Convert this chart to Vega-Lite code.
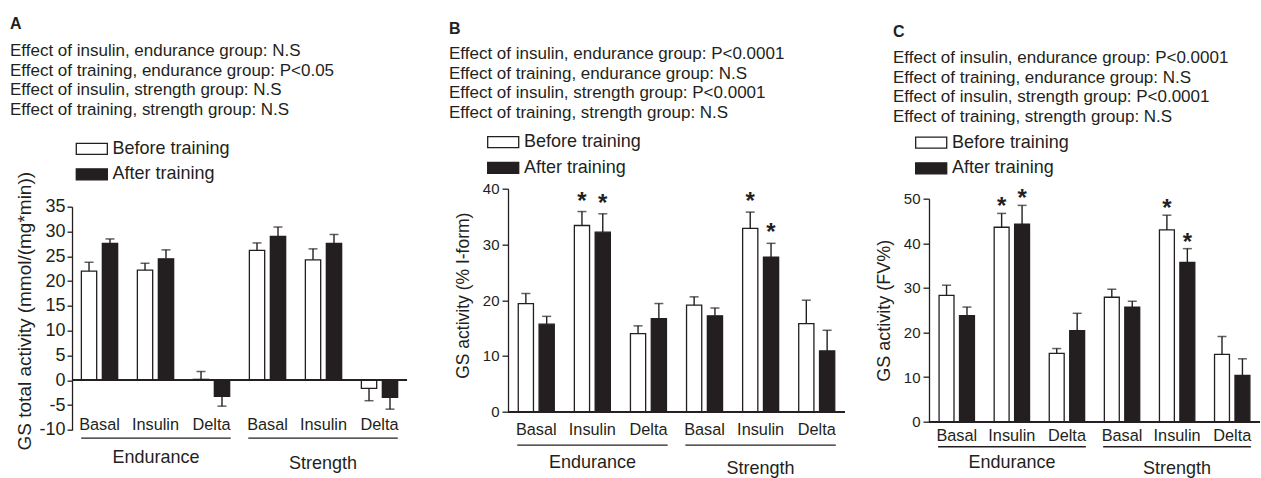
{
  "$schema": "https://vega.github.io/schema/vega-lite/v6.json",
  "background": "white",
  "padding": {"left": 10, "top": 15.7, "right": 0, "bottom": 0},
  "datasets": {
    "A": [
      {"k": "Endurance|Basal", "series": "Before training", "mean": 22.0, "cap": 23.8},
      {"k": "Endurance|Basal", "series": "After training", "mean": 27.6, "cap": 28.5},
      {"k": "Endurance|Insulin", "series": "Before training", "mean": 22.2, "cap": 23.6},
      {"k": "Endurance|Insulin", "series": "After training", "mean": 24.5, "cap": 26.3},
      {"k": "Endurance|Delta", "series": "Before training", "mean": 0.2, "cap": 1.8},
      {"k": "Endurance|Delta", "series": "After training", "mean": -3.2, "cap": -5.2},
      {"k": "Strength|Basal", "series": "Before training", "mean": 26.2, "cap": 27.7},
      {"k": "Strength|Basal", "series": "After training", "mean": 29.0, "cap": 30.9},
      {"k": "Strength|Insulin", "series": "Before training", "mean": 24.3, "cap": 26.5},
      {"k": "Strength|Insulin", "series": "After training", "mean": 27.6, "cap": 29.4},
      {"k": "Strength|Delta", "series": "Before training", "mean": -1.6, "cap": -4.1},
      {"k": "Strength|Delta", "series": "After training", "mean": -3.4, "cap": -5.8}
    ],
    "B": [
      {"k": "Endurance|Basal", "series": "Before training", "mean": 19.4, "cap": 21.2},
      {"k": "Endurance|Basal", "series": "After training", "mean": 15.7, "cap": 17.1},
      {"k": "Endurance|Insulin", "series": "Before training", "mean": 33.4, "cap": 35.9, "star": "*"},
      {"k": "Endurance|Insulin", "series": "After training", "mean": 32.2, "cap": 35.5, "star": "*"},
      {"k": "Endurance|Delta", "series": "Before training", "mean": 14.0, "cap": 15.4},
      {"k": "Endurance|Delta", "series": "After training", "mean": 16.7, "cap": 19.4},
      {"k": "Strength|Basal", "series": "Before training", "mean": 19.1, "cap": 20.6},
      {"k": "Strength|Basal", "series": "After training", "mean": 17.2, "cap": 18.6},
      {"k": "Strength|Insulin", "series": "Before training", "mean": 32.9, "cap": 35.8, "star": "*"},
      {"k": "Strength|Insulin", "series": "After training", "mean": 27.7, "cap": 30.2, "star": "*"},
      {"k": "Strength|Delta", "series": "Before training", "mean": 15.8, "cap": 20.0},
      {"k": "Strength|Delta", "series": "After training", "mean": 10.9, "cap": 14.6}
    ],
    "C": [
      {"k": "Endurance|Basal", "series": "Before training", "mean": 28.3, "cap": 30.6},
      {"k": "Endurance|Basal", "series": "After training", "mean": 23.8, "cap": 25.7},
      {"k": "Endurance|Insulin", "series": "Before training", "mean": 43.6, "cap": 46.7, "star": "*"},
      {"k": "Endurance|Insulin", "series": "After training", "mean": 44.3, "cap": 48.5, "star": "*"},
      {"k": "Endurance|Delta", "series": "Before training", "mean": 15.3, "cap": 16.4},
      {"k": "Endurance|Delta", "series": "After training", "mean": 20.4, "cap": 24.3},
      {"k": "Strength|Basal", "series": "Before training", "mean": 27.9, "cap": 29.7},
      {"k": "Strength|Basal", "series": "After training", "mean": 25.7, "cap": 27.0},
      {"k": "Strength|Insulin", "series": "Before training", "mean": 43.0, "cap": 46.3, "star": "*"},
      {"k": "Strength|Insulin", "series": "After training", "mean": 35.7, "cap": 38.8, "star": "*"},
      {"k": "Strength|Delta", "series": "Before training", "mean": 15.1, "cap": 19.1},
      {"k": "Strength|Delta", "series": "After training", "mean": 10.4, "cap": 14.1}
    ],
    "groups": [
      {"group": "Endurance"},
      {"group": "Strength"}
    ]
  },
  "spacing": 29,
  "resolve": {"scale": {"fill": "independent", "xOffset": "independent"}, "legend": {"fill": "independent"}},
  "hconcat": [
    {
      "spacing": 41,
      "resolve": {"scale": {"fill": "independent", "xOffset": "independent"}, "legend": {"fill": "independent"}},
      "hconcat": [
        {
          "spacing": 0,
          "bounds": "flush",
          "resolve": {"scale": {"fill": "independent", "xOffset": "independent"}, "legend": {"fill": "independent"}},
          "vconcat": [
            {"width": 335, "height": 18, "data": {"values": []}, "mark": {"type": "point", "opacity": 0}},
            {
              "width": 335,
              "height": 223.3,
              "title": {
                "text": "A",
                "subtitle": ["Effect of insulin, endurance group: N.S", "Effect of training, endurance group: P<0.05", "Effect of insulin, strength group: N.S", "Effect of training, strength group: N.S"],
                "anchor": "start", "frame": "group", "dx": -62,
                "fontSize": 16, "fontWeight": "bold",
                "subtitleFontSize": 17, "subtitleLineHeight": 19.6, "subtitlePadding": 11, "offset": 21.8
              },
              "layer": [
                {
                  "data": {"name": "A"},
                  "layer": [
                    {
                      "mark": {"type": "bar", "stroke": "#231f20", "strokeWidth": 1.3},
                      "encoding": {
                        "x": {"field": "k", "type": "nominal", "sort": null, "scale": {"paddingInner": 0.352, "paddingOuter": 0.167},
                          "axis": {"title": null, "labelExpr": "split(datum.value, '|')[1]", "labelAngle": 0, "labelFontSize": 16.3, "labelBaseline": "alphabetic", "labelPadding": 0, "ticks": false, "tickSize": 0, "domain": false}},
                        "xOffset": {"field": "series", "type": "nominal", "sort": ["Before training", "After training"], "scale": {"paddingInner": 0.27, "paddingOuter": 0}},
                        "y": {"field": "mean", "type": "quantitative", "scale": {"domain": [-10, 35], "nice": false},
                          "axis": {"title": "GS total activity (mmol/(mg*min))", "values": [-10, -5, 0, 5, 10, 15, 20, 25, 30, 35], "labelExpr": "'' + datum.value", "labelOverlap": false, "tickSize": 5, "labelPadding": 2, "labelFontSize": 18, "titleFontSize": 19, "titlePadding": 5, "titleY": 104}},
                        "fill": {"field": "series", "type": "nominal", "sort": ["Before training", "After training"], "scale": {"range": ["white", "#231f20"]},
                          "legend": {"orient": "none", "legendX": 4.3, "legendY": -66.8, "title": null, "padding": 0, "symbolType": "M-1.94,-0.69H1.94V0.69H-1.94Z", "symbolSize": 256, "symbolStrokeColor": "#231f20", "symbolStrokeWidth": 1.3, "symbolOffset": 6.5, "labelFontSize": 18, "labelOffset": 11.7, "rowPadding": 7.5, "labelColor": "#231f20", "labelFont": "Liberation Sans"}}
                      }
                    },
                    {
                      "mark": {"type": "rule", "stroke": "#231f20", "strokeWidth": 1.4},
                      "encoding": {
                        "x": {"field": "k", "type": "nominal", "sort": null},
                        "xOffset": {"field": "series", "type": "nominal", "sort": ["Before training", "After training"]},
                        "y": {"field": "mean", "type": "quantitative",
                          "axis": {"title": "GS total activity (mmol/(mg*min))", "values": [-10, -5, 0, 5, 10, 15, 20, 25, 30, 35], "labelExpr": "'' + datum.value", "labelOverlap": false, "tickSize": 5, "labelPadding": 2, "labelFontSize": 18, "titleFontSize": 19, "titlePadding": 5, "titleY": 104}},
                        "y2": {"field": "cap"}
                      }
                    },
                    {
                      "mark": {"type": "tick", "color": "#231f20", "thickness": 1.5, "size": 9},
                      "encoding": {
                        "x": {"field": "k", "type": "nominal", "sort": null},
                        "xOffset": {"field": "series", "type": "nominal", "sort": ["Before training", "After training"]},
                        "y": {"field": "cap", "type": "quantitative",
                          "axis": {"title": "GS total activity (mmol/(mg*min))", "values": [-10, -5, 0, 5, 10, 15, 20, 25, 30, 35], "labelExpr": "'' + datum.value", "labelOverlap": false, "tickSize": 5, "labelPadding": 2, "labelFontSize": 18, "titleFontSize": 19, "titlePadding": 5, "titleY": 104}}
                      }
                    },
                    {"mark": {"type": "rule", "stroke": "#231f20", "strokeWidth": 1.3},
                      "encoding": {"y": {"datum": 0,
                        "axis": {"title": "GS total activity (mmol/(mg*min))", "values": [-10, -5, 0, 5, 10, 15, 20, 25, 30, 35], "labelExpr": "'' + datum.value", "labelOverlap": false, "tickSize": 5, "labelPadding": 2, "labelFontSize": 18, "titleFontSize": 19, "titlePadding": 5, "titleY": 104}}}}
                  ]
                },
                {
                  "data": {"name": "groups"},
                  "layer": [
                    {"mark": {"type": "bar", "color": "#231f20"},
                      "encoding": {"x": {"field": "group", "type": "nominal", "scale": {"paddingInner": 0.105, "paddingOuter": 0.055}, "axis": null},
                        "y": {"datum": -11.5,
                          "axis": {"title": "GS total activity (mmol/(mg*min))", "values": [-10, -5, 0, 5, 10, 15, 20, 25, 30, 35], "labelExpr": "'' + datum.value", "labelOverlap": false, "tickSize": 5, "labelPadding": 2, "labelFontSize": 18, "titleFontSize": 19, "titlePadding": 5, "titleY": 104}},
                        "y2": {"datum": -11.76}}},
                    {"transform": [{"filter": "datum.group === 'Endurance'"}], "mark": {"type": "text", "fontSize": 18, "baseline": "middle", "color": "#231f20"},
                      "encoding": {"x": {"field": "group", "type": "nominal"},
                        "y": {"datum": -15.7,
                          "axis": {"title": "GS total activity (mmol/(mg*min))", "values": [-10, -5, 0, 5, 10, 15, 20, 25, 30, 35], "labelExpr": "'' + datum.value", "labelOverlap": false, "tickSize": 5, "labelPadding": 2, "labelFontSize": 18, "titleFontSize": 19, "titlePadding": 5, "titleY": 104}},
                        "text": {"field": "group"}}},
                    {"transform": [{"filter": "datum.group === 'Strength'"}], "mark": {"type": "text", "fontSize": 18, "baseline": "middle", "color": "#231f20"},
                      "encoding": {"x": {"field": "group", "type": "nominal"},
                        "y": {"datum": -16.9,
                          "axis": {"title": "GS total activity (mmol/(mg*min))", "values": [-10, -5, 0, 5, 10, 15, 20, 25, 30, 35], "labelExpr": "'' + datum.value", "labelOverlap": false, "tickSize": 5, "labelPadding": 2, "labelFontSize": 18, "titleFontSize": 19, "titlePadding": 5, "titleY": 104}},
                        "text": {"field": "group"}}}
                  ]
                }
              ],
              "resolve": {"scale": {"x": "independent"}, "axis": {"x": "independent"}}
            }
          ]
        },
        {
          "width": 337,
          "height": 223,
          "title": {
            "text": "B",
            "subtitle": ["Effect of insulin, endurance group: P<0.0001", "Effect of training, endurance group: N.S", "Effect of insulin, strength group: P<0.0001", "Effect of training, strength group: N.S"],
            "anchor": "start", "frame": "group", "dx": -59,
            "fontSize": 16, "fontWeight": "bold",
            "subtitleFontSize": 17, "subtitleLineHeight": 19.6, "subtitlePadding": 9.5, "offset": 12
          },
          "layer": [
            {
              "data": {"name": "B"},
              "layer": [
                {
                  "mark": {"type": "bar", "stroke": "#231f20", "strokeWidth": 1.3},
                  "encoding": {
                    "x": {"field": "k", "type": "nominal", "sort": null, "scale": {"paddingInner": 0.358, "paddingOuter": 0.183},
                      "axis": {"title": null, "labelExpr": "split(datum.value, '|')[1]", "labelAngle": 0, "labelFontSize": 16.3, "labelBaseline": "alphabetic", "labelPadding": 22.7, "ticks": false, "tickSize": 0, "domain": false}},
                    "xOffset": {"field": "series", "type": "nominal", "sort": ["Before training", "After training"], "scale": {"paddingInner": 0.27, "paddingOuter": 0}},
                    "y": {"field": "mean", "type": "quantitative", "scale": {"domain": [0, 40], "nice": false},
                      "axis": {"title": "GS activity (% I-form)", "values": [0, 10, 20, 30, 40], "labelOverlap": false, "tickSize": 6, "labelPadding": 3, "labelFontSize": 15, "titleFontSize": 17.5, "titlePadding": 9.4, "titleY": 106.5}},
                    "fill": {"field": "series", "type": "nominal", "sort": ["Before training", "After training"], "scale": {"range": ["white", "#231f20"]},
                      "legend": {"orient": "none", "legendX": -20.3, "legendY": -55.6, "title": null, "padding": 0, "symbolType": "M-1.94,-0.69H1.94V0.69H-1.94Z", "symbolSize": 256, "symbolStrokeColor": "#231f20", "symbolStrokeWidth": 1.3, "symbolOffset": 6.5, "labelFontSize": 18, "labelOffset": 11.7, "rowPadding": 7.8, "labelColor": "#231f20", "labelFont": "Liberation Sans"}}
                  }
                },
                {
                  "mark": {"type": "rule", "stroke": "#231f20", "strokeWidth": 1.4},
                  "encoding": {
                    "x": {"field": "k", "type": "nominal", "sort": null},
                    "xOffset": {"field": "series", "type": "nominal", "sort": ["Before training", "After training"]},
                    "y": {"field": "mean", "type": "quantitative"},
                    "y2": {"field": "cap"}
                  }
                },
                {
                  "mark": {"type": "tick", "color": "#231f20", "thickness": 1.5, "size": 9},
                  "encoding": {
                    "x": {"field": "k", "type": "nominal", "sort": null},
                    "xOffset": {"field": "series", "type": "nominal", "sort": ["Before training", "After training"]},
                    "y": {"field": "cap", "type": "quantitative"}
                  }
                },
                {
                  "transform": [{"filter": "datum.star"}],
                  "mark": {"type": "text", "fontSize": 24, "fontWeight": "bold", "baseline": "alphabetic", "dy": -3, "color": "#231f20"},
                  "encoding": {
                    "x": {"field": "k", "type": "nominal", "sort": null},
                    "xOffset": {"field": "series", "type": "nominal", "sort": ["Before training", "After training"]},
                    "y": {"field": "cap", "type": "quantitative"},
                    "text": {"field": "star"}
                  }
                },
                {"mark": {"type": "rule", "stroke": "#231f20", "strokeWidth": 1.3}, "encoding": {"y": {"datum": 0}}}
              ]
            },
            {
              "data": {"name": "groups"},
              "layer": [
                {"mark": {"type": "bar", "color": "#231f20"},
                  "encoding": {"x": {"field": "group", "type": "nominal", "scale": {"paddingInner": 0.105, "paddingOuter": 0.055}, "axis": null}, "y": {"datum": -5.87}, "y2": {"datum": -6.1}}},
                {"transform": [{"filter": "datum.group === 'Endurance'"}], "mark": {"type": "text", "fontSize": 18, "baseline": "middle", "color": "#231f20"},
                  "encoding": {"x": {"field": "group", "type": "nominal"}, "y": {"datum": -9.2}, "text": {"field": "group"}}},
                {"transform": [{"filter": "datum.group === 'Strength'"}], "mark": {"type": "text", "fontSize": 18, "baseline": "middle", "color": "#231f20"},
                  "encoding": {"x": {"field": "group", "type": "nominal"}, "y": {"datum": -10.35}, "text": {"field": "group"}}}
              ]
            }
          ],
          "resolve": {"scale": {"x": "independent"}, "axis": {"x": "independent"}}
        }
      ]
    },
    {
      "spacing": 0,
      "bounds": "flush",
      "resolve": {"scale": {"fill": "independent", "xOffset": "independent"}, "legend": {"fill": "independent"}},
      "vconcat": [
        {"width": 331, "height": 10, "data": {"values": []}, "mark": {"type": "point", "opacity": 0}},
        {
          "width": 331,
          "height": 223,
          "title": {
            "text": "C",
            "subtitle": ["Effect of insulin, endurance group: P<0.0001", "Effect of training, endurance group: N.S", "Effect of insulin, strength group: P<0.0001", "Effect of training, strength group: N.S"],
            "anchor": "start", "frame": "group", "dx": -36,
            "fontSize": 16, "fontWeight": "bold",
            "subtitleFontSize": 17, "subtitleLineHeight": 19.6, "subtitlePadding": 10.5, "offset": 8.5
          },
          "layer": [
            {
              "data": {"name": "C"},
              "layer": [
                {
                  "mark": {"type": "bar", "stroke": "#231f20", "strokeWidth": 1.3},
                  "encoding": {
                    "x": {"field": "k", "type": "nominal", "sort": null, "scale": {"paddingInner": 0.358, "paddingOuter": 0.183},
                      "axis": {"title": null, "labelExpr": "split(datum.value, '|')[1]", "labelAngle": 0, "labelFontSize": 16.3, "labelBaseline": "alphabetic", "labelPadding": 18.5, "ticks": false, "tickSize": 0, "domain": false}},
                    "xOffset": {"field": "series", "type": "nominal", "sort": ["Before training", "After training"], "scale": {"paddingInner": 0.27, "paddingOuter": 0}},
                    "y": {"field": "mean", "type": "quantitative", "scale": {"domain": [0, 50], "nice": false},
                      "axis": {"title": "GS activity (FV%)", "values": [0, 10, 20, 30, 40, 50], "labelOverlap": false, "tickSize": 6, "labelPadding": 3, "labelFontSize": 15, "titleFontSize": 18, "titlePadding": 9.6}},
                    "fill": {"field": "series", "type": "nominal", "sort": ["Before training", "After training"], "scale": {"range": ["white", "#231f20"]},
                      "legend": {"orient": "none", "legendX": -13.3, "legendY": -65.1, "title": null, "padding": 0, "symbolType": "M-1.94,-0.69H1.94V0.69H-1.94Z", "symbolSize": 256, "symbolStrokeColor": "#231f20", "symbolStrokeWidth": 1.3, "symbolOffset": 6.5, "labelFontSize": 18, "labelOffset": 11.7, "rowPadding": 7.8, "labelColor": "#231f20", "labelFont": "Liberation Sans"}}
                  }
                },
                {
                  "mark": {"type": "rule", "stroke": "#231f20", "strokeWidth": 1.4},
                  "encoding": {
                    "x": {"field": "k", "type": "nominal", "sort": null},
                    "xOffset": {"field": "series", "type": "nominal", "sort": ["Before training", "After training"]},
                    "y": {"field": "mean", "type": "quantitative"},
                    "y2": {"field": "cap"}
                  }
                },
                {
                  "mark": {"type": "tick", "color": "#231f20", "thickness": 1.5, "size": 9},
                  "encoding": {
                    "x": {"field": "k", "type": "nominal", "sort": null},
                    "xOffset": {"field": "series", "type": "nominal", "sort": ["Before training", "After training"]},
                    "y": {"field": "cap", "type": "quantitative"}
                  }
                },
                {
                  "transform": [{"filter": "datum.star"}],
                  "mark": {"type": "text", "fontSize": 24, "fontWeight": "bold", "baseline": "alphabetic", "dy": 1, "color": "#231f20"},
                  "encoding": {
                    "x": {"field": "k", "type": "nominal", "sort": null},
                    "xOffset": {"field": "series", "type": "nominal", "sort": ["Before training", "After training"]},
                    "y": {"field": "cap", "type": "quantitative"},
                    "text": {"field": "star"}
                  }
                },
                {"mark": {"type": "rule", "stroke": "#231f20", "strokeWidth": 1.3}, "encoding": {"y": {"datum": 0}}}
              ]
            },
            {
              "data": {"name": "groups"},
              "layer": [
                {"mark": {"type": "bar", "color": "#231f20"},
                  "encoding": {"x": {"field": "group", "type": "nominal", "scale": {"paddingInner": 0.105, "paddingOuter": 0.055}, "axis": null}, "y": {"datum": -5.47}, "y2": {"datum": -5.76}}},
                {"transform": [{"filter": "datum.group === 'Endurance'"}], "mark": {"type": "text", "fontSize": 18, "baseline": "middle", "color": "#231f20"},
                  "encoding": {"x": {"field": "group", "type": "nominal"}, "y": {"datum": -9.2}, "text": {"field": "group"}}},
                {"transform": [{"filter": "datum.group === 'Strength'"}], "mark": {"type": "text", "fontSize": 18, "baseline": "middle", "color": "#231f20"},
                  "encoding": {"x": {"field": "group", "type": "nominal"}, "y": {"datum": -10.5}, "text": {"field": "group"}}}
              ]
            }
          ],
          "resolve": {"scale": {"x": "independent"}, "axis": {"x": "independent"}}
        }
      ]
    }
  ],
  "config": {
    "view": {"stroke": null},
    "font": "Liberation Sans",
    "axis": {"domainColor": "#231f20", "tickColor": "#231f20", "labelColor": "#231f20", "titleColor": "#231f20", "domainWidth": 1.3, "tickWidth": 1.3, "grid": false, "titleFontWeight": "normal", "labelFont": "Liberation Sans", "titleFont": "Liberation Sans"},
    "title": {"color": "#231f20", "subtitleColor": "#231f20", "font": "Liberation Sans", "subtitleFont": "Liberation Sans"},
    "text": {"color": "#231f20"}
  }
}
